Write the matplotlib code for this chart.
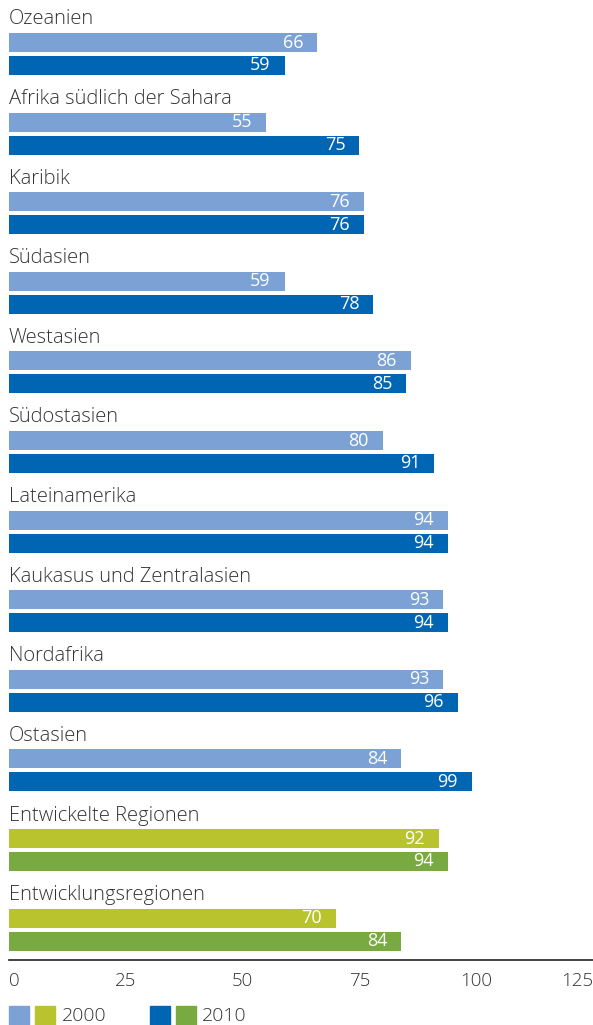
import matplotlib.pyplot as plt
from matplotlib.patches import Rectangle

regions = [
    "Ozeanien",
    "Afrika südlich der Sahara",
    "Karibik",
    "Südasien",
    "Westasien",
    "Südostasien",
    "Lateinamerika",
    "Kaukasus und Zentralasien",
    "Nordafrika",
    "Ostasien",
    "Entwickelte Regionen",
    "Entwicklungsregionen",
]
values_2000 = [66, 55, 76, 59, 86, 80, 94, 93, 93, 84, 92, 70]
values_2010 = [59, 75, 76, 78, 85, 91, 94, 94, 96, 99, 94, 84]
xticks = [0, 25, 50, 75, 100, 125]
legend_years = ["2000", "2010"]

# colours: regions get blue, aggregates get green
c2000 = ["#7ba1d5"] * 10 + ["#b9c32e"] * 2
c2010 = ["#0066b3"] * 10 + ["#78aa41"] * 2

plt.rcParams["font.family"] = ["Open Sans", "DejaVu Sans"]
FS = 13
WT = "light"
W, H = 593, 1025
fig = plt.figure(figsize=(W / 100, H / 100), dpi=100)
ax = fig.add_axes([9 / W, (H - 960) / H, (W - 9) / W, 960 / H])

pitch = 79.6
bar_h = 19
y1 = [42.5 + pitch * i for i in range(len(regions))]
y2 = [y + 23 for y in y1]

ax.barh(y1, values_2000, height=bar_h, color=c2000)
ax.barh(y2, values_2010, height=bar_h, color=c2010)

pad = 14 * 125 / (W - 9)
for i, name in enumerate(regions):
    ax.text(-0.1, y1[i] - 23, name, fontsize=14.5, color="#333333",
            fontweight=WT, va="center", ha="left")
    ax.text(values_2000[i] - pad, y1[i], str(values_2000[i]), fontsize=FS,
            color="white", fontweight="normal", va="center", ha="right")
    ax.text(values_2010[i] - pad, y2[i], str(values_2010[i]), fontsize=FS,
            color="white", fontweight="normal", va="center", ha="right")

ax.set_xlim(0, 125)
ax.set_ylim(960, 0)
ax.set_yticks([])
ax.set_xticks(xticks)
labels = ax.set_xticklabels([str(t) for t in xticks], fontsize=13.5,
                            color="#333333", fontweight=WT)
labels[0].set_ha("left")
labels[-1].set_ha("right")
ax.tick_params(axis="x", length=0, pad=9)
for s in ["top", "right", "left"]:
    ax.spines[s].set_visible(False)
ax.spines["bottom"].set_linewidth(1.2)
ax.spines["bottom"].set_color("#222222")

# legend squares drawn in pixel space
def px_rect(x, y, color):
    fig.add_artist(Rectangle((x / W, 1 - (y + 19) / H), 20 / W, 19 / H,
                             transform=fig.transFigure, color=color))

px_rect(9, 1006, c2000[0])
px_rect(35, 1006, c2000[-1])
fig.text(62 / W, 1 - 1016 / H, legend_years[0], fontsize=14,
         color="#333333", fontweight=WT, va="center")
px_rect(150, 1006, c2010[0])
px_rect(176, 1006, c2010[-1])
fig.text(202 / W, 1 - 1016 / H, legend_years[1], fontsize=14,
         color="#333333", fontweight=WT, va="center")

fig.savefig("out.png", dpi=100)
